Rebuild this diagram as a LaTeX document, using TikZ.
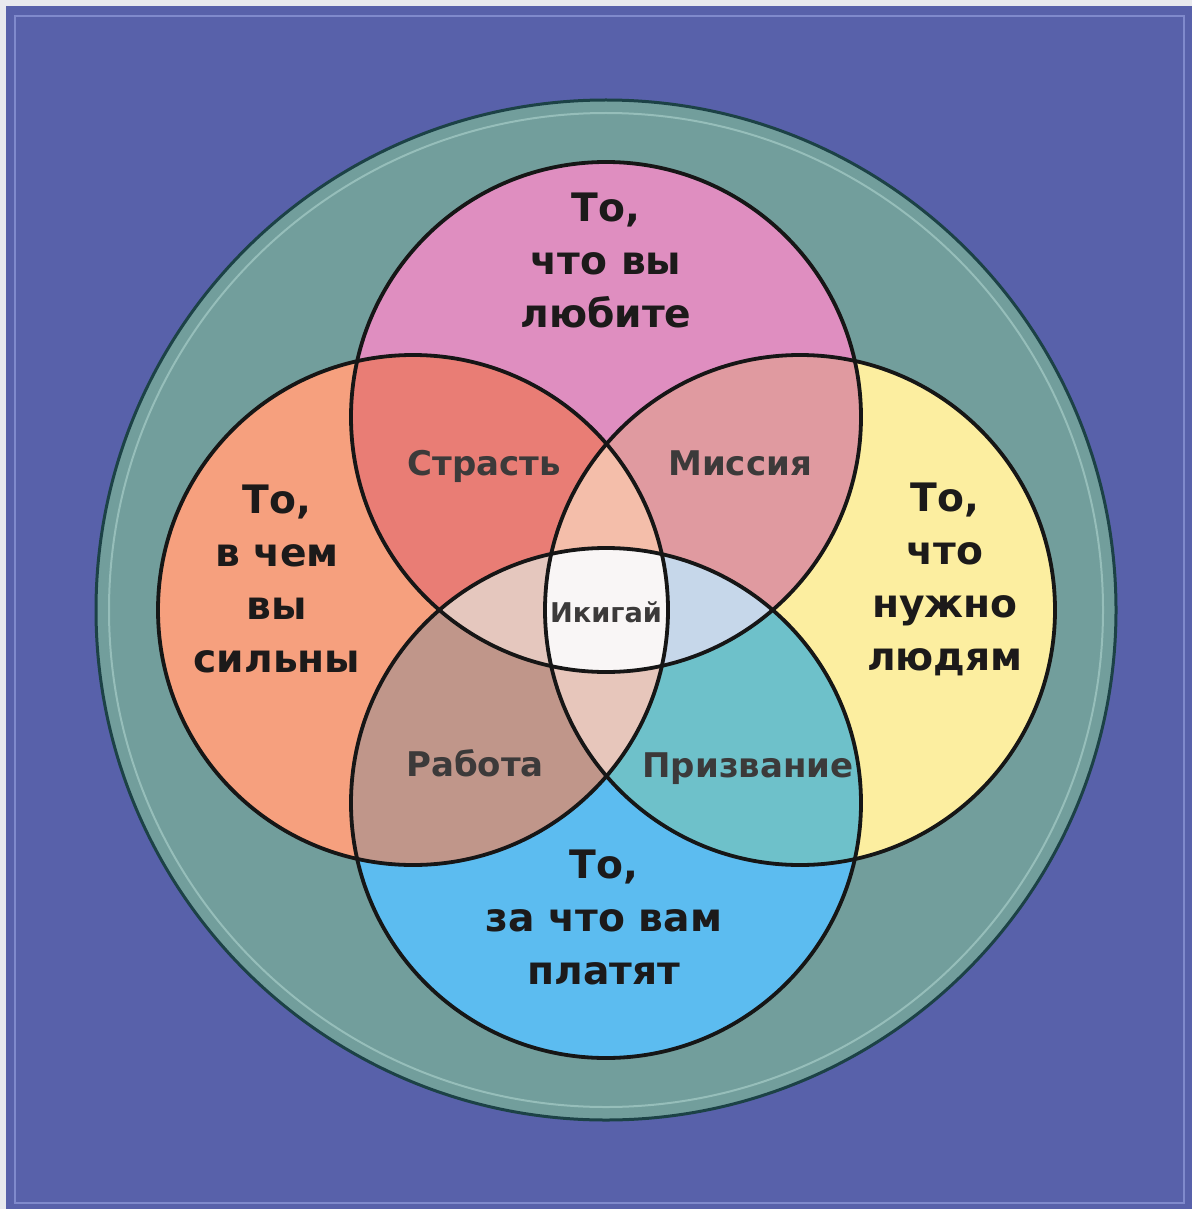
\documentclass[tikz,border=0pt]{standalone}
\usepackage{fontspec}
\setmainfont{DejaVu Sans}

\definecolor{pagegray}{RGB}{232,233,238}
\definecolor{bgblue}{RGB}{88,97,170}
\definecolor{framelight}{RGB}{128,138,204}
\definecolor{ringteal}{RGB}{114,158,156}
\definecolor{ringlight}{RGB}{150,190,186}
\definecolor{ringdark}{RGB}{28,66,70}
\definecolor{edgedark}{RGB}{22,22,22}
\definecolor{cPink}{RGB}{223,142,192}
\definecolor{cSalmon}{RGB}{246,160,126}
\definecolor{cYellow}{RGB}{252,238,160}
\definecolor{cSky}{RGB}{92,188,240}
\definecolor{cPassion}{RGB}{233,125,117}
\definecolor{cMission}{RGB}{224,154,160}
\definecolor{cWork}{RGB}{192,150,138}
\definecolor{cCall}{RGB}{110,193,202}
\definecolor{cUp}{RGB}{244,190,170}
\definecolor{cDown}{RGB}{231,198,187}
\definecolor{cWest}{RGB}{229,199,190}
\definecolor{cEast}{RGB}{198,215,234}
\definecolor{cCore}{RGB}{249,246,246}
\definecolor{txtdark}{RGB}{28,26,26}
\definecolor{txtgray}{RGB}{60,58,58}

\tikzset{every picture/.style={line width=0.75pt},
  venn/.style={line width=1.9pt, draw=edgedark},
  bigtxt/.style={anchor=base, inner sep=0.75pt, align=center, text=txtdark,
    font=\fontsize{19.6}{26.5}\selectfont\bfseries},
  smalltxt/.style={anchor=base, inner sep=0.75pt, text=txtgray,
    font=\fontsize{17}{20}\selectfont\bfseries},
  coretxt/.style={anchor=base, inner sep=0.75pt, text=txtgray,
    font=\fontsize{13.6}{15}\selectfont\bfseries}}

\begin{document}
\begin{tikzpicture}[x=0.5pt,y=0.5pt,yscale=-1,xscale=1]
\useasboundingbox (0,0) rectangle (1192,1209);

%Shape: Rectangle (page and frame)
\fill[pagegray] (0,0) rectangle (1192,1209);
\fill[bgblue] (6,6) rectangle (1192,1209);
\draw[framelight] (15,16) rectangle (1184,1203);

\coordinate (cMid) at (606,610);
\coordinate (cTop) at (606,417);
\coordinate (cLeft) at (413,610);
\coordinate (cRight) at (800,610);
\coordinate (cBot) at (606,803);

%Shape: Circle (outer ring)
\draw[line width=1.5pt, draw=ringdark, fill=ringteal] (cMid) circle (510);
\draw[line width=1pt, ringlight] (cMid) circle (497);

%Shape: Circle (single areas)
\fill[cPink] (cTop) circle (255);
\fill[cSalmon] (cLeft) circle (255);
\fill[cYellow] (cRight) circle (255);
\fill[cSky] (cBot) circle (255);

% two circles
\begin{scope}
  \clip (cTop) circle (255);
  \fill[cPassion] (cLeft) circle (255);
  \fill[cMission] (cRight) circle (255);
\end{scope}
\begin{scope}
  \clip (cBot) circle (255);
  \fill[cWork] (cLeft) circle (255);
  \fill[cCall] (cRight) circle (255);
\end{scope}

% three circles
\begin{scope}
  \clip (cLeft) circle (255);
  \clip (cRight) circle (255);
  \fill[cUp] (cTop) circle (255);
  \fill[cDown] (cBot) circle (255);
\end{scope}
\begin{scope}
  \clip (cTop) circle (255);
  \clip (cBot) circle (255);
  \fill[cWest] (cLeft) circle (255);
  \fill[cEast] (cRight) circle (255);
\end{scope}

% four circles
\begin{scope}
  \clip (cTop) circle (255);
  \clip (cBot) circle (255);
  \clip (cLeft) circle (255);
  \fill[cCore] (cRight) circle (255);
\end{scope}

%Shape: Circle (outlines)
\foreach \c in {cTop,cLeft,cRight,cBot}
  \draw[venn] (\c) circle (255);

% Text Node
\node[bigtxt] (loveTxt) at (606,327) {То,\\что вы\\любите};
% Text Node
\node[bigtxt] (goodTxt) at (277,672) {То,\\в чем\\вы\\сильны};
% Text Node
\node[bigtxt] (needTxt) at (945,670) {То,\\что\\нужно\\людям};
% Text Node
\node[bigtxt] (paidTxt) at (604,984) {То,\\за что вам\\платят};
% Text Node
\node[smalltxt] (passTxt) at (484,475) {Страсть};
% Text Node
\node[smalltxt] (missTxt) at (740,475) {Миссия};
% Text Node
\node[smalltxt] (workTxt) at (475,776) {Работа};
% Text Node
\node[smalltxt] (callTxt) at (748,777) {Призвание};
% Text Node
\node[coretxt] (ikiTxt) at (606,622) {Икигай};
\end{tikzpicture}
\end{document}
